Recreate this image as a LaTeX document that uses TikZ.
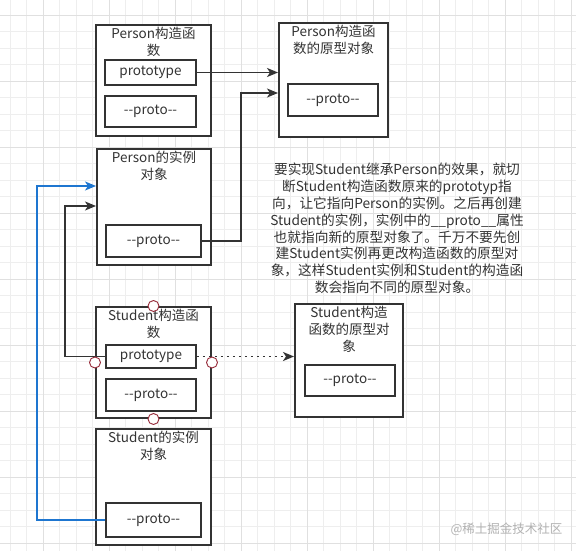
\documentclass[tikz,border=0pt]{standalone}
\usepackage{fontspec}
\setmainfont{Noto Sans CJK SC}
\usetikzlibrary{arrows.meta, positioning}

\definecolor{inkgray}{RGB}{51,51,51}
\definecolor{linkblue}{RGB}{30,118,208}
\definecolor{handlered}{RGB}{150,40,55}
\definecolor{gridminor}{RGB}{238,238,238}
\definecolor{gridmajor}{RGB}{224,224,224}

\begin{document}
\begin{tikzpicture}[
  x=1pt, y=-1pt,
  every node/.style={font=\fontsize{13.5}{17}\selectfont, text=inkgray},
  box/.style={draw=inkgray, line width=2pt, fill=white, inner sep=0pt},
  slot/.style={draw=inkgray, line width=1.8pt, fill=white, inner sep=0pt},
  heading/.style={anchor=north, align=center, inner sep=0pt},
  arrow/.style={-{Stealth[length=11pt, width=9pt, inset=3pt]}, line width=1.8pt, draw=inkgray},
  blue-arrow/.style={arrow, draw=linkblue},
  dotted-arrow/.style={arrow, dash pattern=on 2pt off 4pt},
  handle/.style={circle, draw=handlered, line width=0.9pt, fill=white, minimum size=11pt, inner sep=0pt},
  note/.style={align=center, font=\fontsize{13.7}{16.8}\selectfont},
  watermark/.style={text=black!30, font=\fontsize{12.5}{14}\selectfont}
]
\useasboundingbox (0,0) rectangle (576,551);

% Grid background
\fill[white] (0,0) rectangle (576,551);
\foreach \gx in {-6.5,10,...,580} \draw[gridminor, line width=0.8pt] (\gx,0) -- (\gx,551);
\foreach \gy in {-1.5,15,...,555} \draw[gridminor, line width=0.8pt] (0,\gy) -- (576,\gy);
\foreach \gx in {43,109,...,576} \draw[gridmajor, line width=0.9pt] (\gx,0) -- (\gx,551);
\foreach \gy in {15,81,...,551} \draw[gridmajor, line width=0.9pt] (0,\gy) -- (576,\gy);

% === PERSON (top row) ===
\node[box, minimum width=115pt, minimum height=111pt] (pc)  at (153.5,80.5) {};
\node[heading] (pct) at ([yshift=-3pt]pc.north) {Person构造函\\数};
\node[slot, minimum width=91pt, minimum height=25pt] (pcproto) at (150.5,72.5) {prototype};
\node[slot, minimum width=91pt, minimum height=31pt] (pcpro)   at (150.5,111.5) {-{}-proto-{}-};

\node[box, minimum width=109pt, minimum height=114pt] (ppo) at (333.5,80) {};
\node[heading] (ppot) at ([yshift=-3pt]ppo.north) {Person构造函\\数的原型对象};
\node[slot, minimum width=90pt, minimum height=32pt] (ppopro) at (333,100) {-{}-proto-{}-};

\node[box, minimum width=114pt, minimum height=116pt] (pi) at (154,207) {};
\node[heading] (pit) at ([yshift=-3pt]pi.north) {Person的实例\\对象};
\node[slot, minimum width=95pt, minimum height=32pt] (pipro) at (153.5,241) {-{}-proto-{}-};

% === STUDENT (bottom row) ===
\node[box, minimum width=115pt, minimum height=111pt] (sc) at (153.5,362.5) {};
\node[heading] (sct) at ([yshift=-3pt]sc.north) {Student构造函\\数};
\node[slot, minimum width=90pt, minimum height=23pt] (scproto) at (151,356.5) {prototype};
\node[slot, minimum width=90pt, minimum height=32pt] (scpro)   at (151,395) {-{}-proto-{}-};

\node[box, minimum width=108pt, minimum height=113pt] (spo) at (349,360.5) {};
\node[heading] (spot) at ([yshift=-3pt]spo.north) {Student构造\\函数的原型对\\象};
\node[slot, minimum width=90pt, minimum height=31pt] (spopro) at (350,380.5) {-{}-proto-{}-};

\node[box, minimum width=115pt, minimum height=116pt] (si) at (153.5,487) {};
\node[heading] (sit) at ([yshift=-3pt]si.north) {Student的实例\\对象};
\node[slot, minimum width=95pt, minimum height=34pt] (sipro) at (153.5,520) {-{}-proto-{}-};

% Explanation
\node[note] (expl) at (397,228.5)
  {要实现Student继承Person的效果，就切\\
   断Student构造函数原来的prototyp指\\
   向，让它指向Person的实例。之后再创建\\
   Student的实例，实例中的\_\_proto\_\_属性\\
   也就指向新的原型对象了。千万不要先创\\
   建Student实例再更改构造函数的原型对\\
   象，这样Student实例和Student的构造函\\
   数会指向不同的原型对象。};

% === CONNECTORS ===
\coordinate (bendA) at (241,93);
\coordinate (bendB) at (65,356.5);
\coordinate (bendC) at (37,520);

\draw[arrow] (pcproto.east) -- (pcproto.east -| ppo.west);
\draw[arrow] (pipro.east) -| (bendA) -- (bendA -| ppo.west);
\draw[arrow] (scproto.west) -- (bendB) |- ([yshift=1pt]pi.west);
\draw[blue-arrow] (sipro.west) -- (bendC) |- ([yshift=21pt]pi.west);
\draw[dotted-arrow] (scproto.east) -- (scproto.east -| spo.west);

% Selection handles
\node[handle] (hn) at (sc.north) {};
\node[handle] (hw) at (sc.west)  {};
\node[handle] (he) at (sc.east)  {};
\node[handle] (hs) at (sc.south) {};

% Watermark
\node[watermark] (wm) at (506.5,529) {@稀土掘金技术社区};

\end{tikzpicture}
\end{document}
